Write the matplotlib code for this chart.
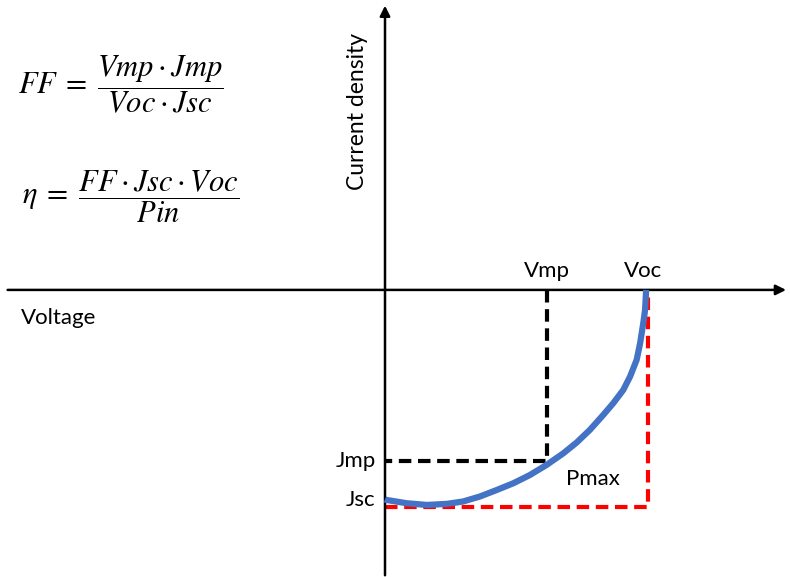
import matplotlib.pyplot as plt

plt.rcParams['font.family'] = ['Lato', 'DejaVu Sans']
plt.rcParams['mathtext.fontset'] = 'stix'

# J-V curve, normalised: V / Voc and J / Jsc
volt = [0.0, 0.006, 0.082, 0.159, 0.235, 0.297, 0.361, 0.425, 0.488,
        0.551, 0.615, 0.678, 0.729, 0.779, 0.830, 0.868, 0.906, 0.932,
        0.957, 0.970, 0.982, 0.989, 0.993]
curr = [-0.965, -0.968, -0.983, -0.991, -0.986, -0.975, -0.952, -0.922,
        -0.891, -0.853, -0.806, -0.753, -0.703, -0.645, -0.576, -0.522,
        -0.461, -0.399, -0.322, -0.246, -0.154, -0.092, 0.0]

voc, vmp = 1.0, 0.615
jsc, jmp = -1.0, -0.79

fig = plt.figure(figsize=(7.9, 5.77), dpi=100)
ax = fig.add_axes([0, 0, 1, 1])
ax.set_xlim(-1.464, 1.540)
ax.set_ylim(-1.323, 1.336)
ax.axis('off')

# axes with arrows
arrow = dict(arrowstyle='-|>,head_length=0.6,head_width=0.3', lw=1.8,
             color='black', shrinkA=0, shrinkB=0)
ax.annotate('', xy=(1.525, 0), xytext=(-1.435, 0), arrowprops=arrow)
ax.annotate('', xy=(0, 1.31), xytext=(0, -1.315), arrowprops=arrow)

# dashed guides for max power point and Voc * Jsc
ax.plot([vmp, vmp, 0], [0, jmp, jmp], color='black', lw=3, ls=(0, (3, 1.6)),
        zorder=2)
ax.plot([0, voc, voc], [jsc, jsc, 0], color='#ff0000', lw=3,
        ls=(0, (3, 1.6)), zorder=2)

ax.plot(volt, curr, color='#4472c4', lw=4.5, solid_capstyle='butt',
        solid_joinstyle='round', zorder=3)

fs = 16
ax.text(vmp, 0.04, 'Vmp', ha='center', va='bottom', fontsize=fs)
ax.text(voc - 0.02, 0.04, 'Voc', ha='center', va='bottom', fontsize=fs)
ax.text(-0.035, jmp, 'Jmp', ha='right', va='center', fontsize=fs)
ax.text(-0.035, jsc + 0.03, 'Jsc', ha='right', va='center', fontsize=fs)
ax.text(0.79, -0.87, 'Pmax', ha='center', va='center', fontsize=fs)
ax.text(-1.385, -0.13, 'Voltage', ha='left', va='center', fontsize=fs)
ax.text(-0.105, 0.82, 'Current density', ha='center', va='center',
        rotation=90, fontsize=16.5)

ax.text(-1.395, 0.945, r'$FF\;=\;\dfrac{Vmp\cdot Jmp}{Voc\cdot Jsc}$',
        ha='left', va='center', fontsize=22)
ax.text(-1.38, 0.43, r'$\eta\;=\;\dfrac{FF\cdot Jsc\cdot Voc}{Pin}$',
        ha='left', va='center', fontsize=22)

fig.savefig('out.png', dpi=100)
